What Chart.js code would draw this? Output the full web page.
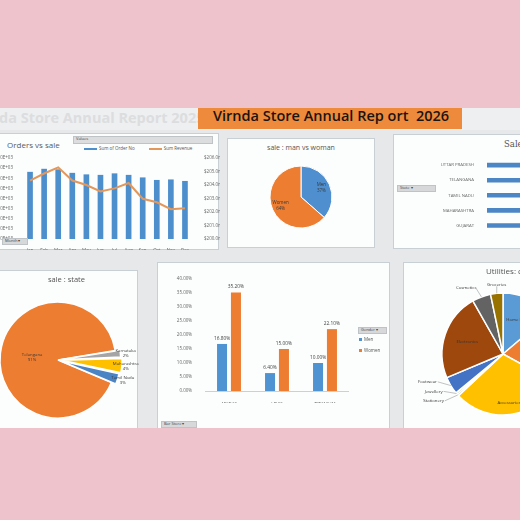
<!DOCTYPE html>
<html><head><meta charset="utf-8">
<script src="https://cdn.jsdelivr.net/npm/chart.js@4.4.1/dist/chart.umd.min.js"></script>
<style>
html,body{margin:0;padding:0;width:520px;height:520px;overflow:hidden;background:#efc3cb;font-family:"Open Sans",sans-serif;}
.abs{position:absolute;}
#dash{position:absolute;left:0;top:108px;width:520px;height:320px;background:#e6e8e9;}
.panel{position:absolute;background:#fcfdfd;border:1px solid #c9d0d5;box-sizing:border-box;}
#pinkb{position:absolute;left:0;top:428px;width:520px;height:92px;background:#efc3cb;z-index:50;}
canvas{position:absolute;}
.title{position:absolute;color:#555;white-space:nowrap;line-height:1;}
.btn{position:absolute;background:#d6d8da;border:1px solid #bfc3c6;box-sizing:border-box;font-size:4px;color:#444;line-height:1;padding-left:2px;white-space:nowrap;}
.leg{position:absolute;font-size:4.5px;color:#555;white-space:nowrap;line-height:1;}
.sw{display:inline-block;vertical-align:middle;margin-right:2px;}
</style></head>
<body>
<div id="dash"></div>
<div class="abs" style="left:0;top:108px;width:520px;height:22px;background:#eeeff0;"></div>
<div class="title" style="left:-31px;top:111px;font-size:14.5px;font-weight:700;color:#dcdddf;">Virnda Store Annual Report 2025</div>
<div class="abs" style="left:198px;top:108px;width:264px;height:21px;background:#ee8a3c;"></div>
<div class="title" style="left:213px;top:109px;font-size:14.5px;font-weight:600;color:#1b1410;white-space:pre;">Virnda Store Annual Rep ort  2026</div>

<!-- panel 1 -->
<div class="panel" style="left:-5px;top:133px;width:224px;height:117px;"></div>
<div class="title" style="left:7px;top:141px;font-size:8px;color:#5a5a5a;">Orders vs sale</div>
<div class="btn" style="left:73px;top:136px;width:140px;height:8px;background:#dcdddf;">Values</div>
<div id="leg1" class="leg" style="left:84px;top:146px;"></div>
<canvas id="c1" width="220" height="100" style="left:0;top:150px;"></canvas>
<div class="btn" style="left:2px;top:238px;width:26px;height:7px;">Month ▾</div>

<!-- panel 2 -->
<div class="panel" style="left:227px;top:138px;width:148px;height:110px;"></div>
<div class="title" style="left:227px;width:148px;text-align:center;top:144px;font-size:7px;">sale : man vs woman</div>
<canvas id="c2" width="80" height="80" style="left:261px;top:157px;"></canvas>

<!-- panel 3 -->
<div class="panel" style="left:393px;top:134px;width:140px;height:115px;"></div>
<div class="title" style="left:504px;top:140px;font-size:8.5px;font-family:'DejaVu Serif',serif;">Sale</div>
<canvas id="c3" width="255" height="93" style="left:393px;top:150px;"></canvas>
<div class="btn" style="left:397px;top:185px;width:39px;height:7px;">State ▾</div>

<!-- panel 4 -->
<div class="panel" style="left:-5px;top:270px;width:143px;height:170px;"></div>
<div class="title" style="left:-5px;width:143px;text-align:center;top:276px;font-size:7.5px;">sale : state</div>
<canvas id="c4" width="170" height="170" style="left:-27px;top:275px;"></canvas>

<!-- panel 5 -->
<div class="panel" style="left:157px;top:262px;width:233px;height:175px;"></div>
<canvas id="c5" width="189" height="133" style="left:160px;top:270px;"></canvas>
<div class="btn" style="left:358px;top:327px;width:29px;height:7px;">Gender ▾</div>
<div id="leg5" class="leg" style="left:359px;top:337px;"></div>
<div class="btn" style="left:161px;top:421px;width:36px;height:7px;">Bar Store ▾</div>

<!-- panel 6 -->
<div class="panel" style="left:403px;top:262px;width:130px;height:175px;"></div>
<div class="title" style="left:486px;top:267px;font-size:8px;">Utilities: category</div>
<canvas id="c6" width="180" height="180" style="left:413px;top:264px;"></canvas>

<div id="pinkb"></div>

<script>
// ---------- data ----------
const months = ['Jan','Feb','Mar','Apr','May','Jun','Jul','Aug','Sep','Oct','Nov','Dec'];
const orderCounts = [6600,6900,6850,6500,6350,6300,6450,6300,6050,5800,5850,5700];
const revenueM = [204.33,204.85,205.31,204.33,204.0,203.52,203.75,204.15,202.98,202.72,202.21,202.28];
const seriesNames1 = ['Sum of Order No','Sum Revenue'];

const genderLabels = ['Men','Women'];
const genderShare = [36.5,63.5];

const states = ['UTTAR PRADESH','TELANGANA','TAMIL NADU','MAHARASHTRA','GUJARAT'];
const stateSales = [2500,2350,2250,2150,2050];

const stateShareLabels = ['Telangana','Karnataka','Maharashtra','Tamil Nadu'];
const stateShare = [91,2,4,3];

const brands = ['ADIDAS','LEVIS','TITANIUM'];
const menPct = [16.8,6.4,10.0];
const womenPct = [35.2,15.0,22.1];

const categories = ['Home Decor','Clothing','Accessories','Stationery','Jewellery','Footwear','Electronics','Cosmetics','Groceries'];
const categoryShare = [13.9,19.4,30.3,0.5,0.5,4.7,23.3,5.0,3.3];

// ---------- style ----------
const BLUE='#4d8fcc', ORANGE='#ed7d31';
Chart.defaults.font.family='"Open Sans", sans-serif';
Chart.defaults.color='#666';
Chart.defaults.animation=false;
Chart.defaults.responsive=false;
Chart.defaults.devicePixelRatio=1;
Chart.defaults.plugins.legend.display=false;
Chart.defaults.plugins.tooltip.enabled=false;
const tiny={size:4.5};

function fixW(w){return s=>{s.width=w;};}
function fixH(h){return s=>{s.height=h;};}

// ---------- chart 1 ----------
const ch1=new Chart(document.getElementById('c1'),{
  data:{labels:months,datasets:[
    {type:'bar',label:seriesNames1[0],data:orderCounts,backgroundColor:BLUE,barThickness:5,yAxisID:'y',order:2},
    {type:'line',label:seriesNames1[1],data:revenueM,borderColor:'#e3975a',borderWidth:2,pointRadius:0,tension:0,yAxisID:'y1',order:1}
  ]},
  options:{layout:{padding:{top:8,left:0,right:0,bottom:0}},
    scales:{
      x:{grid:{display:false},border:{display:false},ticks:{font:tiny,padding:1,maxRotation:0,autoSkip:false},afterFit:fixH(11)},
      y:{position:'left',min:0,max:8000,grid:{display:false},border:{display:false},
         ticks:{stepSize:1000,font:tiny,padding:2,callback:v=>(v/1000).toFixed(1)+'E+03'},afterFit:fixW(23)},
      y1:{position:'right',min:200,max:206,grid:{display:false},border:{display:false},
         ticks:{stepSize:1,font:tiny,padding:4,callback:v=>'$'+v.toFixed(1)+'m'},afterFit:fixW(28)}
    }}
});
document.getElementById('leg1').innerHTML=ch1.data.datasets.map(d=>
 `<span style="margin-right:14px"><span class="sw" style="width:13px;height:2.5px;background:${d.type==='bar'?d.backgroundColor:d.borderColor}"></span>${d.label}</span>`).join('');

// ---------- chart 2 ----------
new Chart(document.getElementById('c2'),{
  type:'pie',
  data:{labels:genderLabels,datasets:[{data:genderShare,backgroundColor:['#4f8fcf',ORANGE],borderColor:'#fff',borderWidth:1,radius:31}]},
  options:{layout:{padding:0}},
  plugins:[{id:'pl2',afterDatasetsDraw(c){
    const ctx=c.ctx;ctx.save();ctx.fillStyle='#3a3a3a';ctx.font='4.5px "Open Sans"';ctx.textAlign='center';ctx.textBaseline='middle';
    c.getDatasetMeta(0).data.forEach((a,i)=>{const m=(a.startAngle+a.endAngle)/2,r=a.outerRadius*0.72;
      const x=a.x+Math.cos(m)*r,y=a.y+Math.sin(m)*r;
      ctx.fillText(c.data.labels[i],x,y-3);ctx.fillText(Math.round(c.data.datasets[0].data[i])+'%',x,y+3);});
    ctx.restore();}}]
});

// ---------- chart 3 ----------
new Chart(document.getElementById('c3'),{
  type:'bar',
  data:{labels:states,datasets:[{data:stateSales,backgroundColor:'#4c86c4',barThickness:4}]},
  options:{indexAxis:'y',layout:{padding:{top:6,right:0}},
    scales:{
      x:{min:0,max:2800,grid:{display:false},border:{display:false},ticks:{stepSize:400,font:tiny,padding:2,maxRotation:0,callback:v=>v===0?'0.0bn':'$'+v.toFixed(1)+'m'},afterFit:fixH(10)},
      y:{grid:{display:false},border:{display:false},ticks:{font:{size:4.3},padding:5},afterFit:fixW(94)}
    }}
});

// ---------- chart 4 ----------
new Chart(document.getElementById('c4'),{
  type:'pie',
  data:{labels:stateShareLabels,datasets:[{data:stateShare,backgroundColor:[ORANGE,'#a5a5a5','#ffc000','#4a84c4'],
    borderColor:'#fff',borderWidth:1.5,offset:[0,10,14,10],radius:58}]},
  options:{rotation:113,layout:{padding:0}},
  plugins:[{id:'pl4',afterDatasetsDraw(c){
    const ctx=c.ctx;ctx.save();ctx.fillStyle='#3a3a3a';ctx.font='4.3px "Open Sans"';ctx.textAlign='center';ctx.textBaseline='middle';
    c.getDatasetMeta(0).data.forEach((a,i)=>{const m=(a.startAngle+a.endAngle)/2;
      const r=i===0?a.outerRadius*0.45:a.outerRadius+10;
      const x=a.x+Math.cos(m)*r,y=a.y+Math.sin(m)*r;
      ctx.fillText(c.data.labels[i],x,y-2.6);ctx.fillText(c.data.datasets[0].data[i]+'%',x,y+2.6);});
    ctx.restore();}}]
});

// ---------- chart 5 ----------
const ch5=new Chart(document.getElementById('c5'),{
  type:'bar',
  data:{labels:brands,datasets:[
    {label:'Men',data:menPct,backgroundColor:'#5093d2',categoryPercentage:0.58,barPercentage:0.72},
    {label:'Women',data:womenPct,backgroundColor:ORANGE,categoryPercentage:0.58,barPercentage:0.72}]},
  options:{layout:{padding:{top:9,right:0}},
    scales:{
      x:{grid:{display:false},border:{display:true,color:'#cfcfcf'},ticks:{font:tiny,padding:3,maxRotation:0},afterFit:fixH(12)},
      y:{min:0,max:40,grid:{display:false},border:{display:false},ticks:{stepSize:5,font:tiny,padding:5,callback:v=>v.toFixed(2)+'%'},afterFit:fixW(45)}
    }},
  plugins:[{id:'pl5',afterDatasetsDraw(c){
    const ctx=c.ctx;ctx.save();ctx.fillStyle='#444';ctx.font='4.8px "Open Sans"';ctx.textAlign='center';ctx.textBaseline='bottom';
    c.data.datasets.forEach((d,di)=>c.getDatasetMeta(di).data.forEach((b,i)=>ctx.fillText(d.data[i].toFixed(2)+'%',b.x,b.y-3)));
    ctx.restore();}}]
});
document.getElementById('leg5').innerHTML=ch5.data.datasets.map(d=>
 `<div style="margin-bottom:6px"><span class="sw" style="width:3px;height:3px;background:${d.backgroundColor}"></span>${d.label}</div>`).join('');

// ---------- chart 6 ----------
const catColors=['#5b9bd5',ORANGE,'#ffc000','#a5a5a5','#70ad47','#4472c4','#9e480e','#636363','#997300'];
new Chart(document.getElementById('c6'),{
  type:'pie',
  data:{labels:categories,datasets:[{data:categoryShare,backgroundColor:catColors,borderColor:'#fff',borderWidth:1.5,radius:61}]},
  options:{rotation:0,layout:{padding:0}},
  plugins:[{id:'pl6',afterDatasetsDraw(c){
    const ctx=c.ctx;ctx.save();ctx.fillStyle='#333';ctx.strokeStyle='#999';ctx.lineWidth=0.6;ctx.font='4.3px "Open Sans"';ctx.textBaseline='middle';
    const arcs=c.getDatasetMeta(0).data;
    const place=['in','in','in','left','left','left','in','upleft','up'];
    let leftY=[];
    arcs.forEach((a,i)=>{const m=(a.startAngle+a.endAngle)/2,lab=c.data.labels[i];
      const ex=a.x+Math.cos(m)*a.outerRadius,ey=a.y+Math.sin(m)*a.outerRadius;
      if(place[i]==='in'){const f=i===2?0.8:0.62;ctx.textAlign='center';ctx.fillText(lab,a.x+Math.cos(m)*a.outerRadius*f,a.y+Math.sin(m)*a.outerRadius*f);}
      else if(place[i]==='left'){leftY.push({ex,ey,lab});}
      else if(place[i]==='upleft'){ctx.textAlign='right';ctx.fillText(lab,ex-5,ey-9);ctx.beginPath();ctx.moveTo(ex-5,ey-8);ctx.lineTo(ex,ey);ctx.stroke();}
      else {ctx.textAlign='center';ctx.fillText(lab,ex,ey-9);ctx.beginPath();ctx.moveTo(ex,ey-7);ctx.lineTo(ex,ey);ctx.stroke();}
    });
    leftY.sort((p,q)=>p.ey-q.ey);
    const base=leftY.reduce((s,p)=>s+p.ey,0)/leftY.length;
    leftY.forEach((p,k)=>{const ly=base+(k-(leftY.length-1)/2)*9.5;const lx=p.ex-14;
      ctx.textAlign='right';ctx.fillText(p.lab,lx,ly);ctx.beginPath();ctx.moveTo(lx+1,ly);ctx.lineTo(p.ex,p.ey);ctx.stroke();});
    ctx.restore();}}]
});
</script>
</body></html>
